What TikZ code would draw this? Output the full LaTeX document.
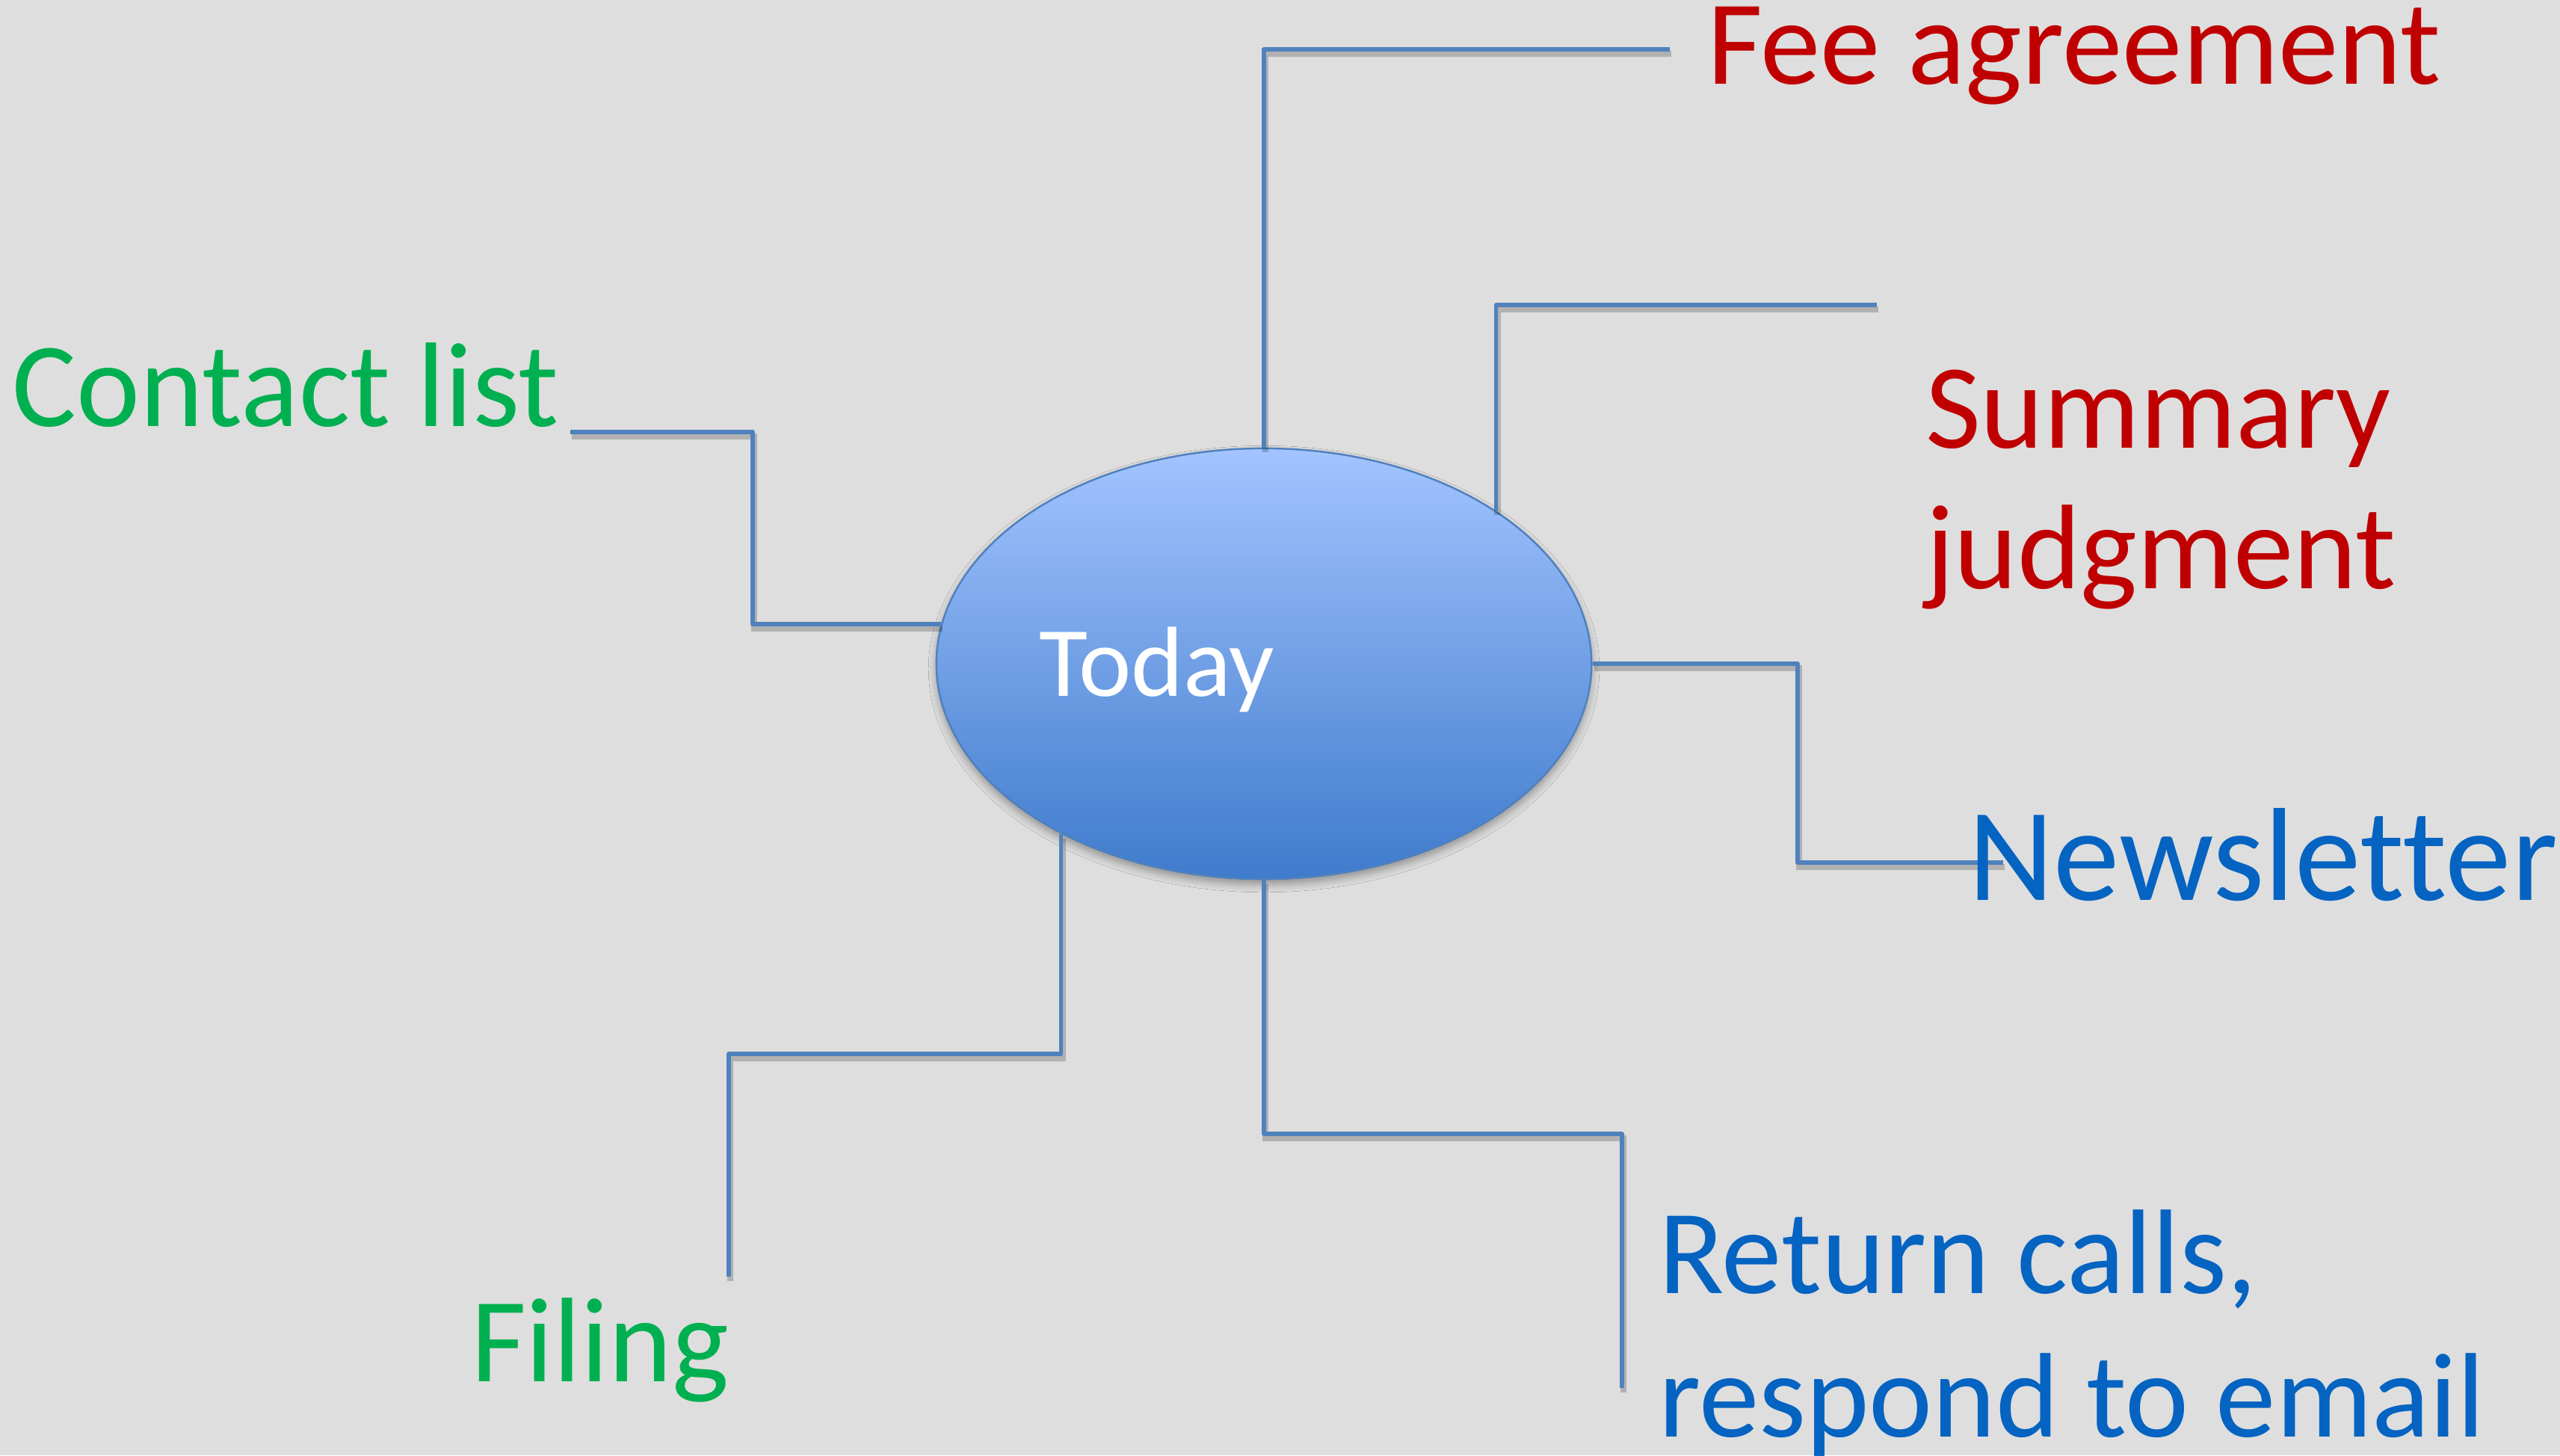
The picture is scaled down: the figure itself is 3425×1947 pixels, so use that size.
\documentclass[tikz,border=0pt]{standalone}
\usepackage{fontspec}
\setmainfont{Carlito}[Ligatures={NoCommon}]
\usetikzlibrary{shapes.geometric,shadows.blur}
\definecolor{bgcol}{HTML}{DEDEDE}
\definecolor{linecol}{HTML}{4F81BD}
\definecolor{redtxt}{HTML}{C00000}
\definecolor{greentxt}{HTML}{00B050}
\definecolor{bluetxt}{HTML}{0563C1}
\definecolor{ellTop}{HTML}{A3C4FF}
\definecolor{ellBot}{HTML}{3F7BCC}
\tikzset{
  conn/.style={draw=linecol, line width=1.5pt, line join=round,
    preaction={draw=black, opacity=0.2, line width=2.5pt, transform canvas={shift={(2,6)}}}},
  lbl/.style={anchor=base west, inner sep=0pt, outer sep=0pt},
  big/.style={font=\fontsize{45.8}{54}\selectfont},
}
\begin{document}
\begin{tikzpicture}[x=0.01cm,y=-0.01cm]
\fill[bgcol] (0,0) rectangle (3425,1947);
\useasboundingbox (0,0) rectangle (3425,1947);

\node[ellipse, minimum width=8.76cm, minimum height=5.76cm, inner sep=0pt,
      draw=linecol, line width=0.7pt, top color=ellTop, bottom color=ellBot,
      blur shadow={shadow xshift=0pt, shadow yshift=-2pt, shadow blur radius=3pt, shadow opacity=35}]
      (today) at (1691,888) {};
\node[lbl, text=white, font=\fontsize{37.9}{45}\selectfont] (todaytxt) at (1390,931) {Today};

\coordinate (feeend) at (2234,66);
\coordinate (sumend) at (2511,408);
\coordinate (conx) at (1007,578);
\coordinate (conend) at (763,578);
\coordinate (newsx) at (2405,1154);
\coordinate (newsend) at (2680,1154);
\coordinate (retx) at (2170,1517);
\coordinate (retend) at (2170,1857);
\coordinate (filx) at (975,1410);
\coordinate (filend) at (975,1708);

\draw[conn] (today.north) |- (feeend);
\draw[conn] (today.north east) |- (sumend);
\draw[conn] (today.173) -| (conx) -- (conend);
\draw[conn] (today.east) -| (newsx) -- (newsend);
\draw[conn] (today.south) |- (retx) -- (retend);
\draw[conn] (today.220) |- (filx) -- (filend);

\node[lbl, big, text=redtxt] (fee) at (2284,112) {Fee agreement};
\node[lbl, big, text=redtxt] (summary) at (2576,599)
  {\parbox[t]{10cm}{\fontsize{45.8}{53.5}\selectfont Summary\\judgment}};
\node[lbl, big, text=greentxt] (contact) at (17,570) {Contact list};
\node[lbl, text=bluetxt, font=\fontsize{50.4}{60}\selectfont] (news) at (2633,1204) {Newsletter};
\node[lbl, big, text=bluetxt] (ret) at (2219,1730)
  {\parbox[t]{12cm}{\fontsize{45.8}{54.6}\selectfont Return calls,\\respond to email}};
\node[lbl, big, text=greentxt] (filing) at (630,1848) {Filing};
\end{tikzpicture}
\end{document}
